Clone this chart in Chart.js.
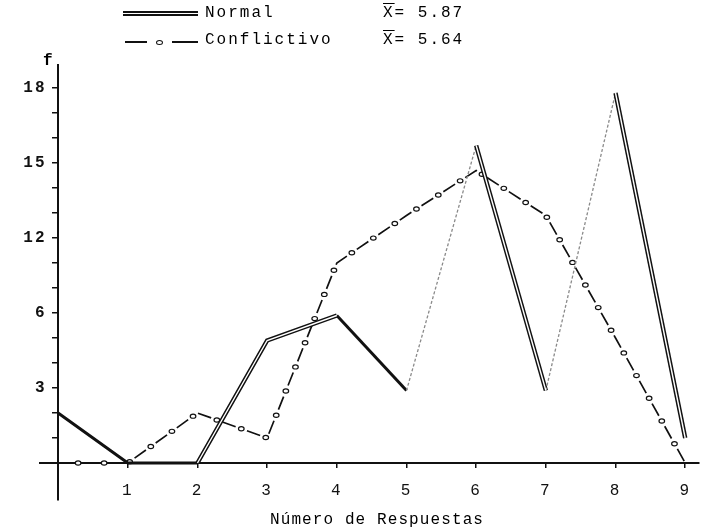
<!DOCTYPE html>
<html><head><meta charset="utf-8">
<script src="https://cdn.jsdelivr.net/npm/chart.js@4/dist/chart.umd.min.js"></script>
<style>
html,body{margin:0;padding:0;background:#fff;}
#wrap{position:relative;width:704px;height:529px;overflow:hidden;}
#c{position:absolute;left:0;top:0;}
.txt{position:absolute;font-family:"Liberation Mono",monospace;font-size:16px;color:#000;letter-spacing:2px;white-space:nowrap;line-height:16px;}
.ln{position:absolute;height:0;}
</style></head><body>
<div id="wrap">
<canvas id="c" width="704" height="529"></canvas>
<div class="ln" style="left:123px;top:11px;width:75px;border-top:5px double #111"></div>
<div class="txt" style="left:205px;top:5px">Normal</div>
<div class="txt" style="left:383px;top:5px"><span style="text-decoration:overline">X</span>= 5.87</div>
<div class="ln" style="left:125px;top:41px;width:22px;border-top:2px solid #111"></div>
<div style="position:absolute;left:156px;top:40px;width:5px;height:3px;border:1.3px solid #111;border-radius:50%"></div>
<div class="ln" style="left:172px;top:41px;width:26px;border-top:2px solid #111"></div>
<div class="txt" style="left:205px;top:32px">Conflictivo</div>
<div class="txt" style="left:383px;top:32px"><span style="text-decoration:overline">X</span>= 5.64</div>
<div class="txt" style="left:43px;top:53px;font-weight:bold">f</div>
<div class="txt" style="left:270px;top:512px;letter-spacing:1.1px">Número de Respuestas</div>
</div>
<script>
const xValues = [0, 1, 2, 3, 4, 5, 6, 7, 8, 9];
const normal = [2, 0, 0, 4.9, 5.9, 2.9, 12.7, 2.9, 14.8, 1];
const conflictivo = [0, 0, 2, 1, 8, 9.9, 11.7, 9.9, 5, 0];
const xTickValues = [1, 2, 3, 4, 5, 6, 7, 8, 9];
const yTickValues = [1, 2, 3, 4, 5, 6, 7, 8, 9, 10, 11, 12, 13, 14, 15];
const yLabelPositions = [3, 6, 9, 12, 15];
const yTickLabels = ['3', '6', '12', '15', '18'];
const normalSegments = ['single', 'single', 'double', 'double', 'single', 'faint', 'double', 'faint', 'double'];

const toPts = arr => xValues.map((x, i) => ({x: x, y: arr[i]}));
const INK = '#111';
const FONT = {family: 'Liberation Mono', size: 16, weight: 'bold'};

const dashCircles = {
  id: 'dashCircles',
  beforeDraw(chart) { chart.ctx.letterSpacing = '2px'; },
  afterDatasetDraw(chart, args) {
    if (args.index !== 2) return;
    const pts = args.meta.data;
    const ctx = chart.ctx;
    ctx.save();
    ctx.lineWidth = 1.2; ctx.strokeStyle = INK; ctx.fillStyle = '#fff';
    const period = 26, dash = 14;
    let acc = 0, next = dash + (period - dash) / 2;
    for (let i = 0; i < pts.length - 1; i++) {
      const a = pts[i], b = pts[i + 1];
      const L = Math.hypot(b.x - a.x, b.y - a.y);
      while (next <= acc + L) {
        const t = (next - acc) / L;
        const x = a.x + t * (b.x - a.x), y = a.y + t * (b.y - a.y);
        ctx.beginPath(); ctx.ellipse(x, y, 2.8, 2.1, 0, 0, Math.PI * 2); ctx.fill(); ctx.stroke();
        next += period;
      }
      acc += L;
    }
    ctx.restore();
  }
};

new Chart(document.getElementById('c'), {
  type: 'line',
  data: {
    datasets: [
      {
        label: 'Normal (inner)',
        data: toPts(normal),
        pointRadius: 0,
        borderColor: '#fff',
        borderWidth: 1.4,
        segment: {
          borderColor: c => normalSegments[c.p0DataIndex] === 'double' ? '#fff' : 'rgba(0,0,0,0)',
          borderWidth: c => normalSegments[c.p0DataIndex] === 'double' ? 1.4 : 0.01
        }
      },
      {
        label: 'Normal',
        data: toPts(normal),
        pointRadius: 0,
        borderColor: INK,
        borderWidth: 4.4,
        segment: {
          borderColor: c => normalSegments[c.p0DataIndex] === 'faint' ? '#8a8a8a' : INK,
          borderWidth: c => ({double: 4.4, single: 3, faint: 1.3})[normalSegments[c.p0DataIndex]],
          borderDash: c => normalSegments[c.p0DataIndex] === 'faint' ? [3, 2] : []
        }
      },
      {
        label: 'Conflictivo',
        data: toPts(conflictivo),
        pointRadius: 0,
        borderColor: INK,
        borderWidth: 1.7,
        borderDash: [14, 12]
      }
    ]
  },
  options: {
    responsive: false,
    animation: false,
    layout: {padding: {left: 40, right: 0, top: 65, bottom: 29}},
    plugins: {legend: {display: false}, tooltip: {enabled: false}},
    scales: {
      x: {
        type: 'linear', min: -0.26, max: 9.2, position: {y: 0},
        afterBuildTicks: a => { a.ticks = xTickValues.map(v => ({value: v})); },
        grid: {drawOnChartArea: false, drawTicks: true, tickLength: 4, color: INK, lineWidth: 1.5},
        border: {display: true, color: INK, width: 2},
        ticks: {color: INK, font: {family: 'Liberation Mono', size: 16}, padding: 14, autoSkip: false, maxRotation: 0, callback: v => String(v)}
      },
      y: {
        type: 'linear', min: -1.48, max: 15.92, position: {x: 0},
        afterBuildTicks: a => { a.ticks = yTickValues.map(v => ({value: v})); },
        grid: {drawOnChartArea: false, drawTicks: true, tickLength: 5, color: INK, lineWidth: 1.5},
        border: {display: true, color: INK, width: 2},
        ticks: {color: INK, font: FONT, padding: 18, autoSkip: false,
          callback: v => { const i = yLabelPositions.indexOf(v); return i >= 0 ? yTickLabels[i] + ' ' : ''; }}
      }
    }
  },
  plugins: [dashCircles]
});
</script>
</body></html>
